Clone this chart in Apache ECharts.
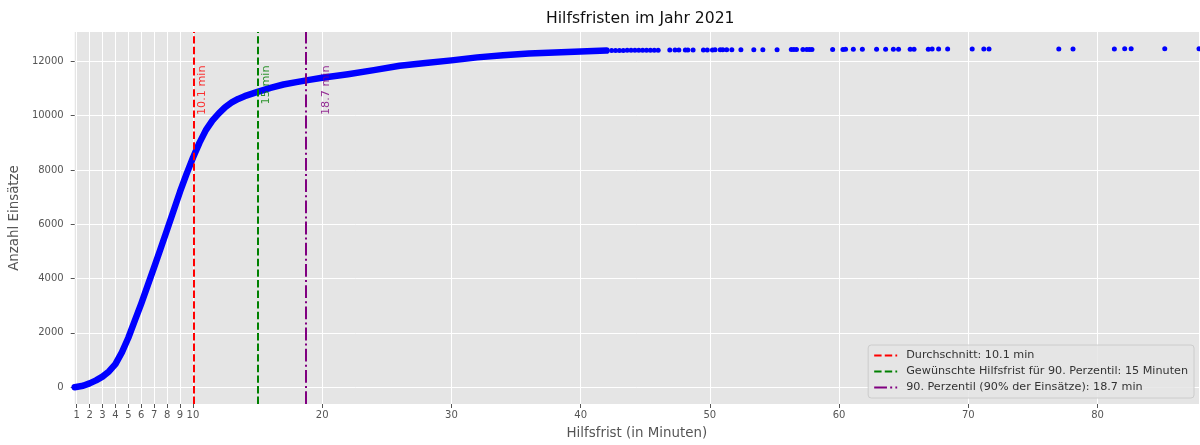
<!DOCTYPE html>
<html>
<head>
<meta charset="utf-8">
<title>Hilfsfristen im Jahr 2021</title>
<script src="https://cdn.jsdelivr.net/npm/echarts@6/dist/echarts.min.js"></script>
<style>
  html, body { margin: 0; padding: 0; background: #fff; }
  #chart { width: 1200px; height: 445px; }
</style>
</head>
<body>
<div id="chart"></div>
<script>
// kumulierte Anzahl Einsätze je Hilfsfrist (dichter Teil der Kurve)
const curveMinutes = [0.85, 1.5, 2.0, 2.5, 3.0, 3.5, 4.0, 4.5, 5.0, 5.5, 6.0, 6.5, 7.0, 7.5, 8.0, 8.5, 9.0, 9.5, 10.0, 10.5,
  11.0, 11.5, 12.0, 12.5, 13.0, 13.5, 14.0, 15.0, 16.0, 17.0, 18.0, 19.0, 20.0, 22.0, 24.0, 26.0, 28.0, 30.0, 32.0, 34.0,
  36.0, 38.0, 40.0, 42.0]
const curveCount = [0, 50, 140, 250, 390, 580, 850, 1280, 1820, 2450, 3080, 3750, 4420, 5110, 5800, 6500, 7200, 7850, 8450, 9000,
  9470, 9820, 10090, 10320, 10490, 10620, 10720, 10880, 11030, 11150, 11240, 11320, 11400, 11530, 11680, 11840, 11940, 12040, 12150, 12230,
  12290, 12330, 12370, 12400]

// einzelne Einsätze mit langer Hilfsfrist (Ausläufer)
const tailMinutes = [42.4, 42.7, 43.0, 43.3, 43.6, 43.9, 44.2, 44.5, 44.8, 45.1, 45.4, 45.7, 46.0,
  46.9, 47.3, 47.6, 48.1, 48.3, 48.7, 49.5, 49.8, 50.2, 50.4, 50.8, 51.0, 51.3, 51.7, 52.4, 53.4, 54.1, 55.2,
  56.3, 56.5, 56.7, 57.2, 57.5, 57.7, 57.9, 59.5, 60.3, 60.5, 61.1, 61.8, 62.9, 63.6, 64.2, 64.6, 65.5, 65.8,
  66.9, 67.2, 67.7, 68.4, 70.3, 71.2, 71.6, 77.0, 78.1, 81.3, 82.1, 82.6, 85.2, 87.85]
const tailCount = [12405, 12406, 12407, 12408, 12409, 12410, 12411, 12412, 12413, 12414, 12415, 12416, 12417,
  12418, 12419, 12420, 12421, 12422, 12423, 12424, 12425, 12426, 12427, 12428, 12429, 12430, 12431, 12432, 12433, 12434, 12435,
  12436, 12437, 12438, 12439, 12440, 12441, 12442, 12443, 12444, 12445, 12446, 12447, 12448, 12449, 12450, 12451, 12452, 12453,
  12454, 12455, 12456, 12457, 12458, 12459, 12460, 12461, 12462, 12463, 12464, 12465, 12466, 12467]

const xTicks = [1, 2, 3, 4, 5, 6, 7, 8, 9, 10, 20, 30, 40, 50, 60, 70, 80]
const yTicks = [0, 2000, 4000, 6000, 8000, 10000, 12000]

const refNames = ['Durchschnitt: 10.1 min', 'Gewünschte Hilfsfrist für 90. Perzentil: 15 Minuten', '90. Perzentil (90% der Einsätze): 18.7 min']
const refValues = [10.1, 15, 18.7]
const refLabels = ['10.1 min', '15 min', '18.7 min']
const refColors = ['#FF0000', '#008000', '#800080']
const refDash = [[7.4, 3.2], [7.4, 3.2], [12.8, 3.2, 2, 3.2]]
const labelShift = [0.63, 0.67, 1.63]   // Text rechts neben der Linie
const labelTop = 11850

const X_MIN = 0.85, X_MAX = 87.85, Y_MIN = -620, Y_MAX = 13085
const tickText = { color: '#555555', fontSize: 10, fontFamily: 'DejaVu Sans' }

const chart = echarts.init(document.getElementById('chart'))

const refSeries = refNames.map((name, i) => ({
  name: name,
  type: 'line',
  data: [],
  symbol: 'none',
  z: 4,
  lineStyle: { color: refColors[i], width: 2, type: refDash[i] },
  itemStyle: { color: refColors[i] },
  markLine: {
    silent: true,
    symbol: 'none',
    label: { show: false },
    lineStyle: { color: refColors[i], width: 2, type: refDash[i] },
    data: [{ xAxis: refValues[i] }]
  }
}))

const option = {
  animation: false,
  title: {
    text: 'Hilfsfristen im Jahr 2021',
    left: 541,
    top: 6,
    textStyle: { color: '#111', fontSize: 15.6, fontWeight: 'normal', fontFamily: 'DejaVu Sans' }
  },
  legend: {
    data: refNames,
    orient: 'vertical',
    right: 6,
    bottom: 47,
    itemWidth: 23,
    itemHeight: 10,
    itemGap: 5,
    padding: [5, 6, 5, 5],
    backgroundColor: 'rgba(229,229,229,0.85)',
    borderColor: '#CCCCCC',
    borderWidth: 1,
    borderRadius: 3,
    itemStyle: { opacity: 0 },
    textStyle: { color: '#333', fontSize: 11.2, fontFamily: 'DejaVu Sans', padding: [0, 0, 0, 4] }
  },
  grid: {
    left: 72, right: 1, top: 32, bottom: 40,
    show: true, backgroundColor: '#E5E5E5', borderWidth: 0
  },
  xAxis: {
    type: 'value',
    min: X_MIN,
    max: X_MAX,
    name: 'Hilfsfrist (in Minuten)',
    nameLocation: 'middle',
    nameGap: 23,
    nameTextStyle: { color: '#555555', fontSize: 13.4, fontFamily: 'DejaVu Sans' },
    axisLine: { show: false, onZero: false },
    axisTick: { show: true, length: 4, lineStyle: { color: '#555555' }, customValues: xTicks },
    axisLabel: Object.assign({ margin: 6, customValues: xTicks }, tickText),
    splitLine: { show: true, lineStyle: { color: '#FFFFFF', width: 1 } }
  },
  yAxis: {
    type: 'value',
    min: Y_MIN,
    max: Y_MAX,
    name: 'Anzahl Einsätze',
    nameLocation: 'middle',
    nameGap: 47,
    nameTextStyle: { color: '#555555', fontSize: 13.4, fontFamily: 'DejaVu Sans' },
    axisLine: { show: false, onZero: false },
    axisTick: { show: true, length: 4, lineStyle: { color: '#555555' }, customValues: yTicks },
    axisLabel: Object.assign({ margin: 11, customValues: yTicks, formatter: v => String(v) }, tickText),
    splitLine: { show: true, lineStyle: { color: '#FFFFFF', width: 1 } }
  },
  series: [
    {
      name: 'Einsätze',
      type: 'line',
      data: curveMinutes.map((m, i) => [m, curveCount[i]]),
      symbol: 'none',
      z: 3,
      lineStyle: { color: '#0000FF', width: 6.5, cap: 'round', join: 'round' }
    },
    {
      name: 'Einsätze (Ausläufer)',
      type: 'scatter',
      data: tailMinutes.map((m, i) => [m, tailCount[i]]),
      symbolSize: 5,
      z: 3,
      itemStyle: { color: '#0000FF', opacity: 1 }
    },
    ...refSeries,
    {
      name: 'Beschriftung',
      type: 'scatter',
      symbolSize: 0,
      z: 5,
      silent: true,
      data: refValues.map((v, i) => ({
        value: [v + labelShift[i], labelTop],
        label: {
          show: true,
          formatter: refLabels[i],
          color: refColors[i],
          position: 'inside',
          rotate: 90,
          align: 'right',
          verticalAlign: 'middle',
          fontSize: 11.2,
          fontFamily: 'DejaVu Sans'
        }
      }))
    }
  ]
}

chart.setOption(option)
</script>
</body>
</html>
